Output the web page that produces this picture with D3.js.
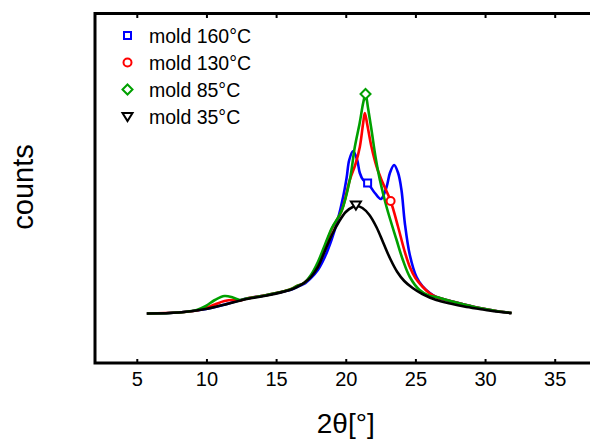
<!DOCTYPE html>
<html><head><meta charset="utf-8">
<script src="https://cdn.jsdelivr.net/npm/d3@7"></script>
<style>body{margin:0;background:#fff}svg{display:block}text{font-family:"Liberation Sans",Arial,Helvetica,sans-serif}</style>
</head><body>
<script>
// 2θ (degrees) and counts (arbitrary units)
const x160 = [5.72,8.02,9.96,11.18,12.9,14.34,15.99,16.5,17.0,17.5,18.0,18.5,19.0,19.4,19.81,20.06,20.25,20.53,20.82,21.01,21.25,21.57,22.09,22.52,22.93,23.17,23.47,23.76,24.0,24.24,24.6,25.08,25.5,26.04,26.5,27.5,28.5,29.6,30.8,31.9];
const y160 = [49.5,50.5,54,58,64.5,68,73,76,79,85,93,106,124,142,166,185,203,212,203,190,183,180,170,164,176,190,198,190,173,140,108,86,77,70,66,62,58.5,55,52,50];
const x130 = [5.72,8.02,9.3,9.96,10.6,11.3,11.9,12.4,12.9,14.34,15.99,16.5,17.0,17.5,18.0,18.5,19.0,19.7,20.29,20.7,21.01,21.25,21.37,21.55,21.85,22.2,22.57,23.22,23.76,24.2,24.6,25.0,25.53,26.0,26.5,27.5,28.5,29.6,30.8,31.9];
const y130 = [49.5,50.5,52.5,55,58.5,62,63,62.5,64.5,68,73.5,77,80,87,99,116,134,152,183,199,216,240,250,238,216,197,183,162,136,113,96,85,76,70,66,62,58.5,55,52,50];
const x85 = [5.72,8.02,9.3,9.96,10.6,11.3,11.9,12.4,12.9,14.34,15.99,16.5,17.0,17.5,18.0,18.5,19.0,19.7,20.29,20.65,21.0,21.25,21.42,21.6,21.85,22.15,22.45,22.93,23.65,24.1,24.6,25.3,26.04,26.5,27.5,28.5,29.6,30.8,31.9];
const y85 = [49.5,50.5,53,57,63,67,65.5,63,64.5,68,73.5,77,80,88,101,118,135,152,183,216,240,260,269,255,233,205,183,156,123,103,86,73,67,66,62,58.5,55,52,50];
const x35 = [5.72,8.02,9.96,11.18,12.9,14.34,15.99,16.5,17.0,17.5,18.0,18.5,19.0,19.5,20.0,20.5,20.8,21.2,21.7,22.2,22.7,23.2,23.7,24.2,24.8,25.5,26.5,27.5,28.5,29.6,30.8,31.9];
const y35 = [49.5,50.5,54,58,64,67.5,73,76,80,86,96,112,128,141,151,156,157,155,148,136,120,104,91,82,75,69,63,59.5,56.5,54,51.5,50];

const seriesNames = ["mold 160°C","mold 130°C","mold 85°C","mold 35°C"];
const seriesColors = ["#0000ff","#ff0000","#00a000","#000000"];
const markerSymbols = ["square","circle","diamond","triangleDown"];
// marker positions on each curve (2θ, counts)
const markerX = [21.57,23.22,21.42,20.73];
const markerY = [180,162,269,158];

const xTicks = [5,10,15,20,25,30,35];
const xLabel = "2θ[°]";
const yLabel = "counts";

const W = 590, H = 443;
const svg = d3.select("body").append("svg").attr("width", W).attr("height", H);
const x = d3.scaleLinear().domain([2, 38]).range([95, 596.5]);
const y = d3.scaleLinear().domain([0, 349]).range([363, 14]);

const seriesX = [x160,x130,x85,x35], seriesY = [y160,y130,y85,y35];
const line = d3.line().x(d => x(d[0])).y(d => y(d[1])).curve(d3.curveCatmullRom.alpha(0.5));

seriesX.forEach((xs,i) => {
  const pts = xs.map((v,j) => [v, seriesY[i][j]]);
  svg.append("path").attr("d", line(pts)).attr("fill","none")
    .attr("stroke", seriesColors[i]).attr("stroke-width", 2.6).attr("stroke-linejoin","round");
});

function marker(g, kind, color) {
  if (kind === "square") g.append("rect").attr("x",-3.5).attr("y",-3.5).attr("width",7).attr("height",7);
  else if (kind === "circle") g.append("circle").attr("r",4);
  else if (kind === "diamond") g.append("path").attr("d","M0,-5L5,0L0,5L-5,0Z");
  else g.append("path").attr("d","M-5,-3.5L5,-3.5L0,4.5Z");
  g.selectAll("*").attr("fill","#fff").attr("stroke", color).attr("stroke-width", 2);
}
markerX.forEach((mx,i) => {
  const g = svg.append("g").attr("transform", `translate(${x(mx)},${y(markerY[i])})`);
  marker(g, markerSymbols[i], seriesColors[i]);
});

// frame
svg.append("rect").attr("x",95).attr("y",13.5).attr("width",510).attr("height",349.5)
  .attr("fill","none").attr("stroke","#000").attr("stroke-width",3);

const bottomAxis = svg.append("g").attr("transform","translate(0,363)")
  .call(d3.axisBottom(x).tickValues(xTicks).tickSize(-4).tickPadding(9).tickFormat(d3.format("d")));
bottomAxis.select(".domain").remove();
bottomAxis.selectAll("line").attr("stroke","#000").attr("stroke-width",2);
bottomAxis.selectAll("text").attr("font-size",20).attr("fill","#000").attr("dy","0.71em")
  .style("font-family",'"Liberation Sans",Arial,sans-serif');
const topAxis = svg.append("g").attr("transform","translate(0,13.5)")
  .call(d3.axisTop(x).tickValues(xTicks).tickSize(-4.5).tickFormat(""));
topAxis.select(".domain").remove();
topAxis.selectAll("line").attr("stroke","#000").attr("stroke-width",2);

svg.append("text").attr("x", x(20)).attr("y", 433).attr("text-anchor","middle")
  .attr("font-size",28).attr("fill","#000").text(xLabel);
svg.append("text").attr("transform","translate(33,187) rotate(-90)").attr("text-anchor","middle")
  .attr("font-size",29).attr("fill","#000").text(yLabel);

seriesNames.forEach((n,i) => {
  const yy = 35.5 + i*27;
  const g = svg.append("g").attr("transform", `translate(127.5,${yy})`);
  marker(g, markerSymbols[i], seriesColors[i]);
  svg.append("text").attr("x",149).attr("y",yy+7).attr("font-size",19.5).attr("fill","#000").text(n);
});
</script>
</body></html>
